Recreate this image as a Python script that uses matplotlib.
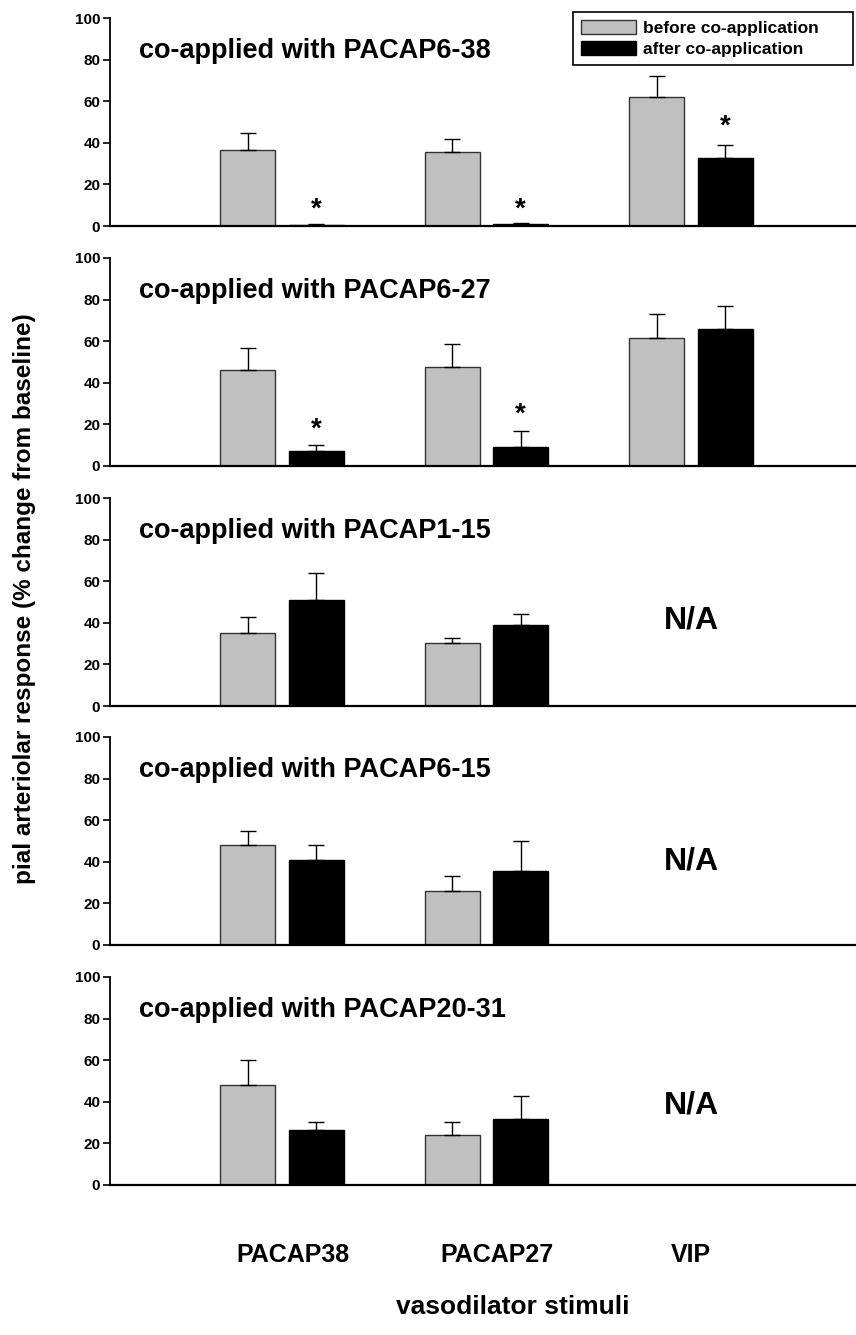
import matplotlib.pyplot as plt
import matplotlib.transforms as mtransforms
import numpy as np

plt.rcParams['font.family'] = ['Liberation Sans', 'DejaVu Sans']
plt.rcParams['font.weight'] = 'bold'

# Data
stimuli = ['PACAP38', 'PACAP27', 'VIP']
antagonists = ['PACAP6-38', 'PACAP6-27', 'PACAP1-15', 'PACAP6-15', 'PACAP20-31']

# before co-application (gray), None = not tested
before = [
    [36.7, 35.8, 62.0],
    [46.1, 47.5, 61.5],
    [35.3, 30.3, None],
    [48.0, 25.8, None],
    [48.0, 23.9, None],
]
before_err = [
    [8.2, 5.9, 10.3],
    [10.6, 11.2, 11.7],
    [7.7, 2.6, None],
    [6.8, 7.6, None],
    [12.0, 6.3, None],
]
# after co-application (black)
after = [
    [0.5, 1.0, 32.8],
    [7.4, 9.1, 66.0],
    [51.0, 39.0, None],
    [40.8, 35.6, None],
    [26.3, 31.5, None],
]
after_err = [
    [0.4, 0.6, 6.0],
    [2.9, 7.6, 10.7],
    [12.9, 5.3, None],
    [7.1, 14.2, None],
    [3.9, 11.5, None],
]
# significance stars: (panel, stimulus index, height of star)
stars = [(0, 0, 12.5), (0, 1, 12.5), (0, 2, 52.5), (1, 0, 22.0), (1, 1, 29.5)]
na_height = [None, None, 41, 40, 38]

fig = plt.figure(figsize=(8.56, 13.35), dpi=100)

x = np.arange(len(stimuli))
width = 0.27
off = 0.167
gray = '#c0c0c0'

bottoms = [226, 466, 706, 945, 1185]
axes = []
for i, name in enumerate(antagonists):
    ax = fig.add_axes([110 / 856, 1 - bottoms[i] / 1335, 746 / 856, 208 / 1335])
    axes.append(ax)

    for j in range(len(stimuli)):
        if before[i][j] is None:
            continue
        ax.bar(x[j] - off, before[i][j], width, color=gray, edgecolor='#333333', linewidth=1,
               label='before co-application' if j == 0 else None)
        ax.bar(x[j] + off, after[i][j], width, color='black', edgecolor='black', linewidth=1,
               label='after co-application' if j == 0 else None)
        ax.errorbar([x[j] - off, x[j] + off], [before[i][j], after[i][j]],
                    yerr=[[0, 0], [before_err[i][j], after_err[i][j]]],
                    fmt='none', ecolor='black', elinewidth=1, capsize=6, capthick=1)

    ax.text(-0.70, 84, 'co-applied with ' + name, fontsize=19.5, ha='left', va='center')
    if na_height[i] is not None:
        ax.text(2, na_height[i], 'N/A', fontsize=23, ha='center', va='center')

    ax.set_xlim(-0.841, 2.807)
    ax.set_ylim(0, 100)
    ax.set_yticks([0, 20, 40, 60, 80, 100])
    ax.tick_params(axis='y', length=5, width=1.2, labelsize=11, pad=2)
    ax.set_xticks(x)
    ax.tick_params(axis='x', length=0, labelbottom=False)
    for t in ax.get_yticklabels():
        t.set_fontweight('bold')
    ax.spines['top'].set_visible(False)
    ax.spines['right'].set_visible(False)
    ax.spines['left'].set_linewidth(1.3)
    ax.spines['bottom'].set_linewidth(1.6)

for p, j, h in stars:
    axes[p].annotate('*', (x[j] + off, h), xytext=(0, -7), textcoords='offset points',
                     fontsize=20, ha='center', va='center')

# group names under the last panel
axes[-1].set_xticklabels(stimuli)
axes[-1].tick_params(axis='x', labelbottom=True, labelsize=18, pad=42)
shift = mtransforms.ScaledTranslation(0.11, 0, fig.dpi_scale_trans)
for t in axes[-1].get_xticklabels()[:2]:
    t.set_transform(t.get_transform() + shift)

leg = axes[0].legend(loc='upper left', bbox_to_anchor=(0.6206, 0.8, 0.3753, 0.23), mode='expand',
                     borderaxespad=0, fontsize=12.5, handlelength=3.2, handleheight=0.86,
                     handletextpad=0.4, labelspacing=0.3, borderpad=0.45, fancybox=False,
                     framealpha=1, edgecolor='black')
leg.get_frame().set_linewidth(1.2)

fig.text(25 / 856, 1 - 599 / 1335, 'pial arteriolar response (% change from baseline)',
         rotation=90, fontsize=17.5, ha='center', va='center')
fig.text(513 / 856, 1 - 1307 / 1335, 'vasodilator stimuli', fontsize=19, ha='center', va='center')

fig.savefig('out.png', dpi=100)
